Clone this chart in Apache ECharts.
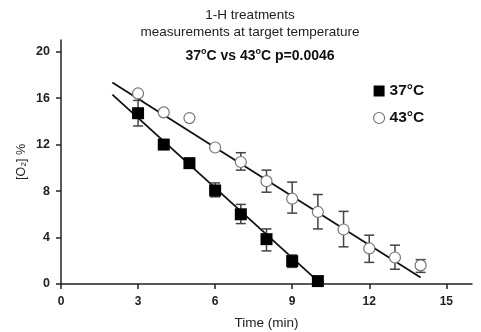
<!DOCTYPE html>
<html><head><meta charset="utf-8">
<script src="https://cdn.jsdelivr.net/npm/echarts@6/dist/echarts.min.js"></script>
<style>html,body{margin:0;padding:0;background:#fff}#c{width:481px;height:332px}</style>
</head><body><div id="c"></div>
<script>
const times37 = [3, 4, 5, 6, 7, 8, 9, 10];
const o2_37 = [14.7, 12.0, 10.4, 8.05, 6.0, 3.86, 1.97, 0.25];
const err37Low = [13.6, 11.8, 10.2, 7.5, 5.2, 2.85, 1.43, 0.15];
const err37High = [15.8, 12.2, 10.6, 8.7, 6.85, 4.74, 2.5, 0.35];
const times43 = [3, 4, 5, 6, 7, 8, 9, 10, 11, 12, 13, 14];
const o2_43 = [16.4, 14.77, 14.28, 11.75, 10.5, 8.85, 7.34, 6.2, 4.69, 3.06, 2.28, 1.6];
const err43Low = [16.3, 14.67, 14.18, 11.65, 9.8, 7.9, 6.1, 4.74, 3.2, 1.86, 1.27, 1.0];
const err43High = [16.5, 14.87, 14.38, 11.85, 11.3, 9.8, 8.77, 7.7, 6.25, 4.2, 3.34, 2.1];
const fit37X = [2, 10];
const fit37Y = [16.3, 0.25];
const fit43X = [2, 14];
const fit43Y = [17.35, 0.55];
const xTicks = [0, 3, 6, 9, 12, 15];
const yTicks = [0, 4, 8, 12, 16, 20];

const F = 'Liberation Sans, Arial, sans-serif';
function errSeries(xs, lo, hi) {
  return {
    type: 'custom', z: 2, silent: true,
    data: xs.map((x, i) => [x, lo[i], hi[i]]),
    renderItem: function (params, api) {
      const a = api.coord([api.value(0), api.value(1)]);
      const b = api.coord([api.value(0), api.value(2)]);
      const w = 5;
      const st = { stroke: '#444', lineWidth: 1.5 };
      return { type: 'group', children: [
        { type: 'line', shape: { x1: a[0], y1: a[1], x2: b[0], y2: b[1] }, style: st },
        { type: 'line', shape: { x1: a[0] - w, y1: a[1], x2: a[0] + w, y2: a[1] }, style: st },
        { type: 'line', shape: { x1: b[0] - w, y1: b[1], x2: b[0] + w, y2: b[1] }, style: st }
      ] };
    }
  };
}
const chart = echarts.init(document.getElementById('c'), null, { renderer: 'canvas' });
chart.setOption({
  animation: false,
  backgroundColor: '#fff',
  title: [
    { text: '1-H treatments\nmeasurements at target temperature', left: 245, top: 2, textAlign: 'center',
      textStyle: { fontFamily: F, fontSize: 13.5, fontWeight: 'normal', color: '#222', lineHeight: 17 } },
    { text: '{n|37}{s|o}{n|C vs 43}{s|o}{n|C p=0.0046}', left: 255, top: 42, textAlign: 'center',
      textStyle: { rich: {
        n: { fontFamily: F, fontSize: 14, fontWeight: 'bold', color: '#111', verticalAlign: 'bottom', lineHeight: 16 },
        s: { fontFamily: F, fontSize: 9, fontWeight: 'bold', color: '#111', verticalAlign: 'top', padding: [0, 0, 8, 0], lineHeight: 16 }
      } } }
  ],
  legend: {
    left: 368, top: 77, orient: 'vertical', itemGap: 9, itemWidth: 11, itemHeight: 11,
    textStyle: { fontFamily: F, fontSize: 15.5, fontWeight: 'bold', color: '#111', lineHeight: 18 },
    data: [
      { name: '37°C', icon: 'rect', itemStyle: { color: '#000', borderWidth: 0 } },
      { name: '43°C', icon: 'circle', itemStyle: { color: '#fff', borderColor: '#777', borderWidth: 1.2 } }
    ]
  },
  grid: { left: 61, right: 9, top: 40, bottom: 48, outerBoundsMode: 'none', containLabel: false },
  xAxis: {
    type: 'value', min: 0, max: 16, interval: 1,
    name: 'Time (min)', nameLocation: 'middle', nameGap: 32, nameMoveOverlap: false,
    nameTextStyle: { fontFamily: F, fontSize: 13.5, color: '#222' },
    axisLine: { show: true, onZero: false, lineStyle: { color: '#222', width: 1.5 } },
    axisTick: { show: true, length: 5, lineStyle: { color: '#222', width: 1.5 }, customValues: xTicks },
    axisLabel: { fontFamily: F, fontSize: 12, fontWeight: 'bold', color: '#222', margin: 12, customValues: xTicks },
    splitLine: { show: false }
  },
  yAxis: {
    type: 'value', min: 0, max: 21, interval: 1,
    name: '[O₂] %', nameLocation: 'middle', nameGap: 33, nameRotate: 90, nameMoveOverlap: false,
    nameTextStyle: { fontFamily: F, fontSize: 12.5, color: '#222' },
    axisLine: { show: true, onZero: false, lineStyle: { color: '#222', width: 1.5 } },
    axisTick: { show: true, length: 5, lineStyle: { color: '#222', width: 1.5 }, customValues: yTicks },
    axisLabel: { fontFamily: F, fontSize: 12.5, fontWeight: 'bold', color: '#222', margin: 11, customValues: yTicks },
    splitLine: { show: false }
  },
  series: [
    { type: 'line', name: 'fit37', data: fit37X.map((x, i) => [x, fit37Y[i]]), symbol: 'none', z: 1,
      lineStyle: { color: '#111', width: 1.8 }, silent: true },
    { type: 'line', name: 'fit43', data: fit43X.map((x, i) => [x, fit43Y[i]]), symbol: 'none', z: 1,
      lineStyle: { color: '#111', width: 1.8 }, silent: true },
    errSeries(times37, err37Low, err37High),
    errSeries(times43, err43Low, err43High),
    { type: 'scatter', name: '43°C', data: times43.map((x, i) => [x, o2_43[i]]), symbol: 'circle', symbolSize: 11, z: 3,
      itemStyle: { color: '#fff', borderColor: '#777', borderWidth: 1.2, opacity: 1 } },
    { type: 'scatter', name: '37°C', data: times37.map((x, i) => [x, o2_37[i]]), symbol: 'rect', symbolSize: 12, z: 4,
      itemStyle: { color: '#000', opacity: 1 } }
  ]
});
</script></body></html>
